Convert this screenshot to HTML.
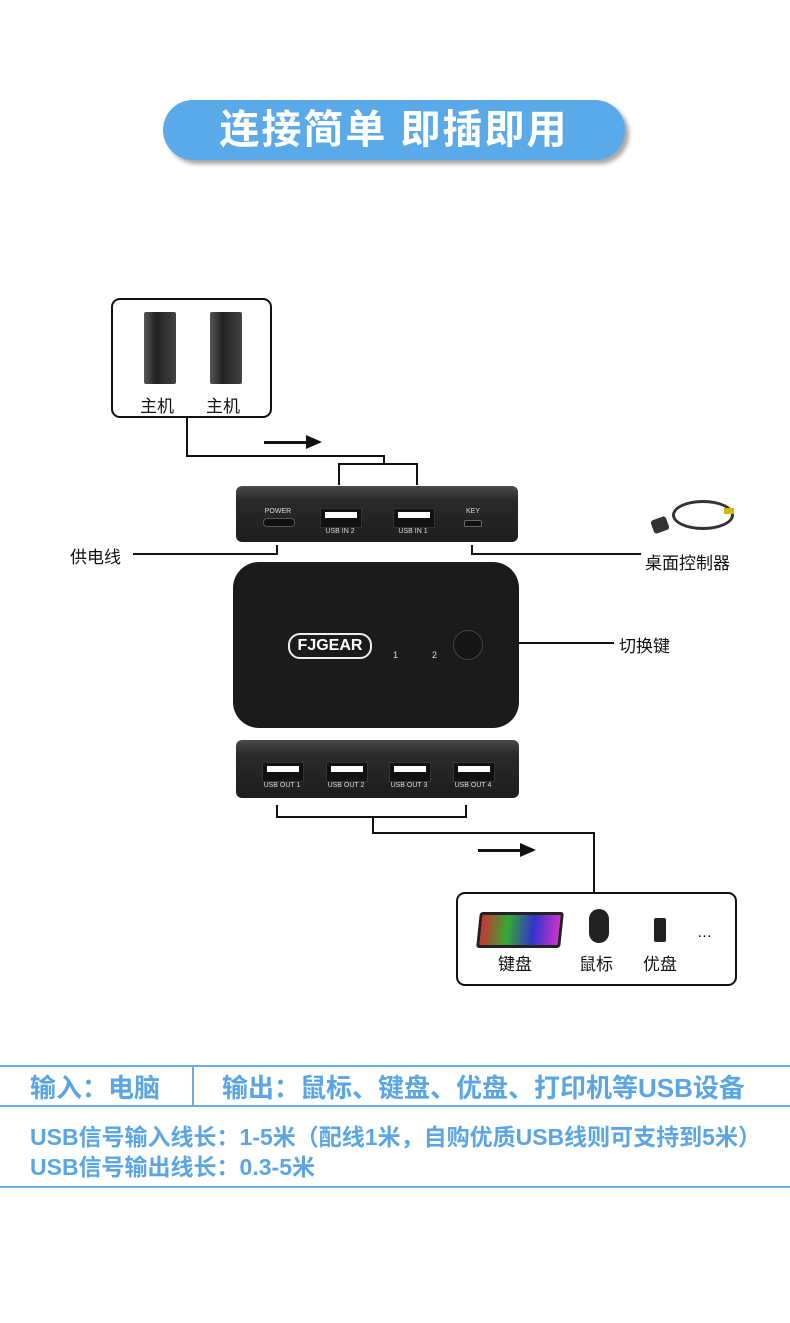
<!DOCTYPE html>
<html><head><meta charset="utf-8"><style>
body{margin:0;width:790px;height:1323px;background:#fff;position:relative;overflow:hidden;font-family:"Liberation Sans","Noto Sans CJK SC",sans-serif}
.a{position:absolute}
.l{position:absolute;background:#111}
.dev{position:absolute;background:linear-gradient(#4a4a4a,#2a2a2a 25%,#1d1d1d);border-radius:6px}
.port{position:absolute;width:40px;height:18px;background:#111;border:1px solid #333}
.port::before{content:"";position:absolute;left:4px;right:4px;top:3px;height:6px;background:#fff}
.pl{position:absolute;color:#ddd;font-size:7px;text-align:center;width:60px}
.bl{position:absolute;left:0;width:790px;height:2px;background:#6aaee6}
.t{position:absolute;font-size:17px;color:#111}
</style></head><body>
<div class="a" style="left:163px;top:100px;width:462px;height:60px;border-radius:30px;background:#5aaaea;box-shadow:4px 4px 4px rgba(0,0,0,.35);color:#fff;font-size:40px;font-weight:bold;text-align:center;line-height:60px;letter-spacing:2px">连接简单 即插即用</div>

<div class="a" style="left:111px;top:298px;width:157px;height:116px;border:2px solid #111;border-radius:9px"></div>
<div class="a" style="left:144px;top:312px;width:32px;height:72px;background:linear-gradient(90deg,#555,#222 40%,#444);border-radius:2px"></div>
<div class="a" style="left:210px;top:312px;width:32px;height:72px;background:linear-gradient(90deg,#555,#222 40%,#444);border-radius:2px"></div>
<div class="t" style="left:140px;top:392px">主机</div>
<div class="t" style="left:206px;top:392px">主机</div>

<div class="l" style="left:186px;top:416px;width:2px;height:41px"></div>
<div class="l" style="left:186px;top:455px;width:199px;height:2px"></div>
<div class="l" style="left:383px;top:455px;width:2px;height:10px"></div>
<div class="l" style="left:338px;top:463px;width:80px;height:2px"></div>
<div class="l" style="left:338px;top:463px;width:2px;height:22px"></div>
<div class="l" style="left:416px;top:463px;width:2px;height:22px"></div>
<div class="l" style="left:264px;top:441px;width:46px;height:3px"></div>
<div class="a" style="left:306px;top:435px;border-left:16px solid #111;border-top:7px solid transparent;border-bottom:7px solid transparent"></div>

<div class="dev" style="left:236px;top:486px;width:282px;height:56px"></div>
<div class="pl" style="left:248px;top:508px">POWER</div>
<div class="a" style="left:263px;top:518px;width:30px;height:7px;border-radius:4px;background:#111;border:1px solid #555"></div>
<div class="port" style="left:320px;top:508px"></div><div class="pl" style="left:310px;top:528px">USB IN 2</div>
<div class="port" style="left:393px;top:508px"></div><div class="pl" style="left:383px;top:528px">USB IN 1</div>
<div class="pl" style="left:443px;top:508px">KEY</div>
<div class="a" style="left:464px;top:520px;width:16px;height:5px;border-radius:2px;background:#111;border:1px solid #666"></div>

<div class="l" style="left:276px;top:545px;width:2px;height:10px"></div>
<div class="l" style="left:133px;top:553px;width:145px;height:2px"></div>
<div class="t" style="left:70px;top:543px">供电线</div>
<div class="l" style="left:471px;top:545px;width:2px;height:10px"></div>
<div class="l" style="left:471px;top:553px;width:170px;height:2px"></div>
<div class="t" style="left:645px;top:549px">桌面控制器</div>
<div class="a" style="left:672px;top:500px;width:56px;height:24px;border:3px solid #333;border-radius:50%"></div>
<div class="a" style="left:652px;top:518px;width:16px;height:14px;background:#333;border-radius:3px;transform:rotate(-20deg)"></div>
<div class="a" style="left:724px;top:508px;width:10px;height:6px;background:#d8b800"></div>

<div class="a" style="left:233px;top:562px;width:286px;height:166px;border-radius:26px;background:#1b1b1b"></div>
<div class="a" style="left:288px;top:633px;width:80px;height:22px;border:2px solid #eee;border-radius:12px;color:#fff;font-weight:bold;font-size:16px;text-align:center;line-height:22px">FJGEAR</div>
<div class="a" style="left:393px;top:650px;color:#ddd;font-size:9px">1</div>
<div class="a" style="left:432px;top:650px;color:#ddd;font-size:9px">2</div>
<div class="a" style="left:453px;top:630px;width:28px;height:28px;border-radius:50%;background:#151515;border:1px solid #444"></div>
<div class="l" style="left:519px;top:642px;width:95px;height:2px"></div>
<div class="t" style="left:619px;top:632px">切换键</div>

<div class="dev" style="left:236px;top:740px;width:283px;height:58px"></div>
<div class="port" style="left:262px;top:762px"></div><div class="pl" style="left:252px;top:782px">USB OUT 1</div>
<div class="port" style="left:326px;top:762px"></div><div class="pl" style="left:316px;top:782px">USB OUT 2</div>
<div class="port" style="left:389px;top:762px"></div><div class="pl" style="left:379px;top:782px">USB OUT 3</div>
<div class="port" style="left:453px;top:762px"></div><div class="pl" style="left:443px;top:782px">USB OUT 4</div>

<div class="l" style="left:276px;top:805px;width:2px;height:13px"></div>
<div class="l" style="left:465px;top:805px;width:2px;height:13px"></div>
<div class="l" style="left:276px;top:816px;width:191px;height:2px"></div>
<div class="l" style="left:372px;top:816px;width:2px;height:18px"></div>
<div class="l" style="left:372px;top:832px;width:223px;height:2px"></div>
<div class="l" style="left:593px;top:832px;width:2px;height:61px"></div>
<div class="l" style="left:478px;top:849px;width:44px;height:3px"></div>
<div class="a" style="left:520px;top:843px;border-left:16px solid #111;border-top:7px solid transparent;border-bottom:7px solid transparent"></div>

<div class="a" style="left:456px;top:892px;width:277px;height:90px;border:2px solid #111;border-radius:9px"></div>
<div class="a" style="left:478px;top:912px;width:78px;height:30px;background:linear-gradient(90deg,#c33,#3a3,#33c,#c3c);border:3px solid #222;border-radius:3px;transform:skewX(-6deg)"></div>
<div class="a" style="left:589px;top:909px;width:20px;height:34px;background:#222;border-radius:10px"></div>
<div class="a" style="left:654px;top:918px;width:12px;height:24px;background:#222;border-radius:2px"></div>
<div class="a" style="left:697px;top:924px;font-size:15px">…</div>
<div class="t" style="left:498px;top:950px">键盘</div>
<div class="t" style="left:579px;top:950px">鼠标</div>
<div class="t" style="left:643px;top:950px">优盘</div>

<div class="bl" style="top:1065px"></div>
<div class="bl" style="top:1105px"></div>
<div class="bl" style="top:1186px"></div>
<div class="a" style="left:192px;top:1066px;width:2px;height:40px;background:#6aaee6"></div>
<div class="a" style="left:30px;top:1068px;font-size:26px;font-weight:bold;color:#5aa5e6">输入：电脑</div>
<div class="a" style="left:222px;top:1068px;font-size:26px;font-weight:bold;color:#5aa5e6;white-space:nowrap">输出：鼠标、键盘、优盘、打印机等USB设备</div>
<div class="a" style="left:30px;top:1118px;font-size:23px;font-weight:bold;color:#5aa5e6;white-space:nowrap">USB信号输入线长：1-5米（配线1米，自购优质USB线则可支持到5米）</div>
<div class="a" style="left:30px;top:1148px;font-size:23px;font-weight:bold;color:#5aa5e6">USB信号输出线长：0.3-5米</div>
</body></html>
